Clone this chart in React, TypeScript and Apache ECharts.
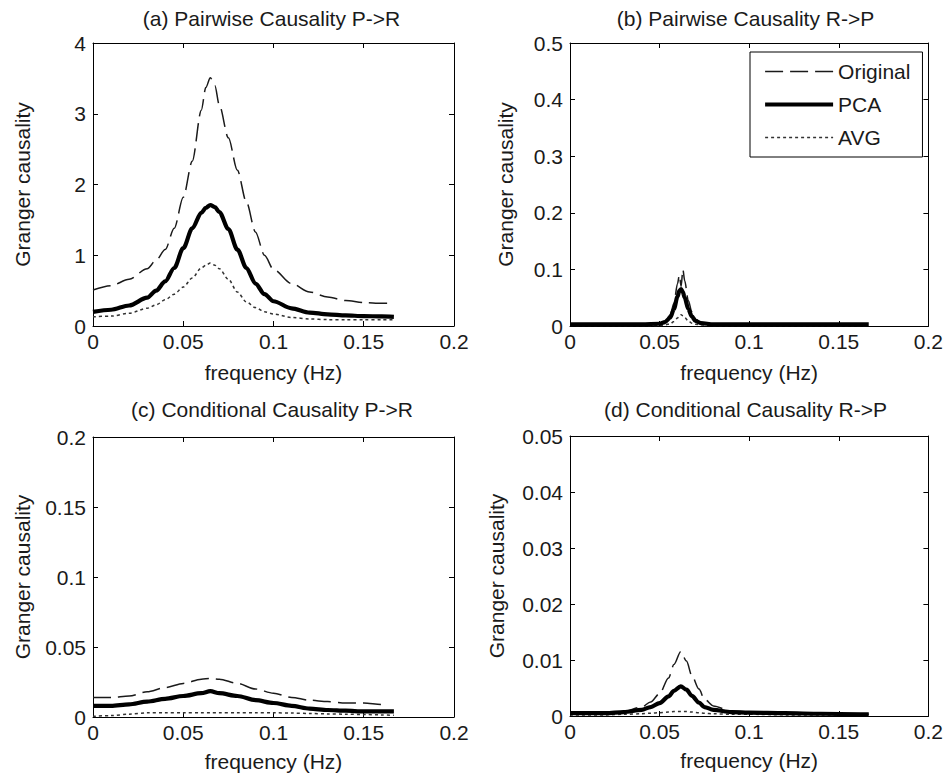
import React, { useEffect, useRef } from "react";
import * as echarts from "echarts";

// ---- Data ----
const SERIES_NAMES = ["Original", "PCA", "AVG"];
const X_TICKS = [0, 0.05, 0.1, 0.15, 0.2];

// (a) Pairwise Causality P->R
const FREQ_A = [0, 0.01, 0.02, 0.03, 0.035, 0.04, 0.045, 0.05, 0.055, 0.06, 0.0625, 0.065, 0.0675, 0.07, 0.075, 0.08, 0.085, 0.09, 0.095, 0.1, 0.11, 0.12, 0.13, 0.14, 0.15, 0.16, 0.1667];
const FREQ_A_ORIG = [0, 0.01, 0.02, 0.03, 0.035, 0.04, 0.045, 0.05, 0.055, 0.06, 0.0625, 0.065, 0.0675, 0.07, 0.075, 0.08, 0.085, 0.09, 0.095, 0.1, 0.11, 0.12, 0.13, 0.14, 0.15, 0.16, 0.163];
const ORIG_A = [0.51, 0.57, 0.66, 0.81, 0.93, 1.08, 1.38, 1.82, 2.33, 3.05, 3.37, 3.51, 3.40, 3.12, 2.66, 2.20, 1.75, 1.33, 1.00, 0.80, 0.60, 0.48, 0.41, 0.36, 0.33, 0.32, 0.32];
const PCA_A = [0.20, 0.23, 0.29, 0.40, 0.50, 0.63, 0.82, 1.10, 1.38, 1.60, 1.67, 1.71, 1.68, 1.61, 1.37, 1.08, 0.82, 0.60, 0.45, 0.35, 0.25, 0.19, 0.165, 0.15, 0.14, 0.135, 0.13];
const AVG_A = [0.13, 0.14, 0.18, 0.25, 0.30, 0.37, 0.45, 0.55, 0.68, 0.82, 0.86, 0.89, 0.86, 0.81, 0.66, 0.48, 0.34, 0.26, 0.20, 0.17, 0.12, 0.10, 0.09, 0.09, 0.09, 0.09, 0.09];

// (b) Pairwise Causality R->P
const FREQ_B = [0, 0.02, 0.04, 0.05, 0.053, 0.056, 0.058, 0.06, 0.061, 0.062, 0.063, 0.064, 0.066, 0.068, 0.07, 0.073, 0.08, 0.1, 0.12, 0.14, 0.1667];
const ORIG_B = [0.003, 0.003, 0.003, 0.004, 0.008, 0.02, 0.04, 0.075, 0.09, 0.07, 0.1, 0.08, 0.045, 0.025, 0.012, 0.006, 0.004, 0.003, 0.003, 0.003, 0.003];
const PCA_B = [0.003, 0.003, 0.003, 0.004, 0.007, 0.015, 0.03, 0.052, 0.062, 0.065, 0.06, 0.05, 0.03, 0.017, 0.009, 0.005, 0.003, 0.003, 0.003, 0.003, 0.003];
const AVG_B = [0.001, 0.001, 0.001, 0.001, 0.002, 0.004, 0.008, 0.014, 0.018, 0.02, 0.018, 0.015, 0.009, 0.005, 0.003, 0.002, 0.001, 0.001, 0.001, 0.001, 0.001];

// (c) Conditional Causality P->R
const FREQ_C = [0, 0.01, 0.02, 0.03, 0.04, 0.05, 0.06, 0.065, 0.07, 0.08, 0.09, 0.1, 0.11, 0.12, 0.13, 0.14, 0.15, 0.16, 0.1667];
const FREQ_C_ORIG = [0, 0.01, 0.02, 0.03, 0.04, 0.05, 0.06, 0.065, 0.07, 0.08, 0.09, 0.1, 0.11, 0.12, 0.13, 0.14, 0.15, 0.16, 0.163];
const ORIG_C = [0.014, 0.014, 0.015, 0.018, 0.021, 0.024, 0.027, 0.0275, 0.027, 0.024, 0.020, 0.017, 0.014, 0.012, 0.011, 0.010, 0.010, 0.009, 0.009];
const PCA_C = [0.008, 0.008, 0.009, 0.011, 0.013, 0.015, 0.017, 0.0185, 0.017, 0.015, 0.012, 0.010, 0.008, 0.006, 0.005, 0.0045, 0.004, 0.004, 0.004];
const AVG_C = [0.0005, 0.001, 0.002, 0.003, 0.003, 0.003, 0.003, 0.003, 0.003, 0.003, 0.003, 0.003, 0.0028, 0.0025, 0.0022, 0.002, 0.0018, 0.0015, 0.0012];

// (d) Conditional Causality R->P
const FREQ_D = [0, 0.02, 0.03, 0.04, 0.045, 0.05, 0.055, 0.058, 0.0618, 0.065, 0.068, 0.072, 0.075, 0.08, 0.09, 0.1, 0.12, 0.14, 0.1667];
const ORIG_D = [0.0004, 0.0005, 0.0008, 0.0016, 0.0025, 0.004, 0.0068, 0.0092, 0.0115, 0.0098, 0.0072, 0.0048, 0.003, 0.0018, 0.0009, 0.0007, 0.0005, 0.0004, 0.0003];
const PCA_D = [0.0005, 0.0005, 0.0007, 0.0011, 0.0016, 0.0023, 0.0035, 0.0045, 0.0053, 0.0047, 0.0036, 0.0024, 0.0016, 0.0011, 0.0007, 0.0006, 0.0005, 0.0004, 0.0003];
const AVG_D = [0.0002, 0.0002, 0.0003, 0.0004, 0.0005, 0.0006, 0.0007, 0.0008, 0.0008, 0.0008, 0.0007, 0.0006, 0.0005, 0.0004, 0.0003, 0.0003, 0.0002, 0.0002, 0.0002];

const TITLES = [
  "(a) Pairwise Causality P->R",
  "(b) Pairwise Causality R->P",
  "(c) Conditional Causality P->R",
  "(d) Conditional Causality R->P",
];
const Y_MAX = [4, 0.5, 0.2, 0.05];
const Y_INTERVAL = [1, 0.1, 0.05, 0.01];

const FONT = "'Liberation Sans', Arial, Helvetica, sans-serif";
const FS = 21;
const INK = "#1a1a1a";

const zip = (xs: number[], ys: number[]) => xs.map((x, i) => [x, ys[i]]);

const GRIDS = [
  { left: 93, top: 43, width: 361, height: 283 },
  { left: 570, top: 43, width: 360, height: 283 },
  { left: 93, top: 437, width: 361, height: 280 },
  { left: 570, top: 436, width: 360, height: 280 },
];
const Y_NAME_GAP = [60, 54, 60, 63];
const X_NAME_GAP = [36, 36, 34, 34];
const TITLE_POS = [
  [271.5, 18],
  [745.5, 18],
  [272, 409],
  [745.5, 409],
];

const STYLES: Record<string, any> = {
  Original: { color: INK, width: 1.5, type: [18, 7] },
  PCA: { color: "#000", width: 4.2, type: "solid" },
  AVG: { color: "#333", width: 1.5, type: [3, 3] },
};

export default function App() {
  const ref = useRef<HTMLDivElement>(null);

  useEffect(() => {
    if (!ref.current) return;
    const chart = echarts.init(ref.current, undefined, { renderer: "svg" });

    const xAxes: any[] = [];
    const yAxes: any[] = [];
    for (let g = 0; g < 4; g++) {
      xAxes.push({
        type: "value",
        gridIndex: g,
        min: X_TICKS[0],
        max: X_TICKS[X_TICKS.length - 1],
        interval: 0.05,
        position: "bottom",
        axisLine: { show: true, onZero: false, lineStyle: { color: "#000", width: 1 } },
        axisTick: { show: true, inside: true, length: 5, lineStyle: { color: "#000" } },
        axisLabel: { color: INK, fontSize: FS, fontFamily: FONT, margin: 5 },
        splitLine: { show: false },
        name: "frequency (Hz)",
        nameLocation: "middle",
        nameGap: X_NAME_GAP[g],
        nameTextStyle: { color: INK, fontSize: FS, fontFamily: FONT },
      });
      yAxes.push({
        type: "value",
        gridIndex: g,
        min: 0,
        max: Y_MAX[g],
        interval: Y_INTERVAL[g],
        position: "left",
        axisLine: { show: true, onZero: false, lineStyle: { color: "#000", width: 1 } },
        axisTick: { show: true, inside: true, length: 5, lineStyle: { color: "#000" } },
        axisLabel: { color: INK, fontSize: FS, fontFamily: FONT, margin: 7 },
        splitLine: { show: false },
        name: "Granger causality",
        nameLocation: "middle",
        nameGap: Y_NAME_GAP[g],
        nameTextStyle: { color: INK, fontSize: FS, fontFamily: FONT },
      });
    }
    for (let g = 0; g < 4; g++) {
      xAxes.push({
        type: "value",
        gridIndex: g,
        min: 0,
        max: 0.2,
        interval: 0.05,
        position: "top",
        axisLine: { show: true, onZero: false, lineStyle: { color: "#000", width: 1 } },
        axisTick: { show: true, inside: true, length: 5, lineStyle: { color: "#000" } },
        axisLabel: { show: false },
        splitLine: { show: false },
      });
      yAxes.push({
        type: "value",
        gridIndex: g,
        min: 0,
        max: Y_MAX[g],
        interval: Y_INTERVAL[g],
        position: "right",
        axisLine: { show: true, onZero: false, lineStyle: { color: "#000", width: 1 } },
        axisTick: { show: true, inside: true, length: 5, lineStyle: { color: "#000" } },
        axisLabel: { show: false },
        splitLine: { show: false },
      });
    }

    const panels = [
      { Original: zip(FREQ_A_ORIG, ORIG_A), PCA: zip(FREQ_A, PCA_A), AVG: zip(FREQ_A, AVG_A) },
      { Original: zip(FREQ_B, ORIG_B), PCA: zip(FREQ_B, PCA_B), AVG: zip(FREQ_B, AVG_B) },
      { Original: zip(FREQ_C_ORIG, ORIG_C), PCA: zip(FREQ_C, PCA_C), AVG: zip(FREQ_C, AVG_C) },
      { Original: zip(FREQ_D, ORIG_D), PCA: zip(FREQ_D, PCA_D), AVG: zip(FREQ_D, AVG_D) },
    ];

    const series: any[] = [];
    panels.forEach((p: any, g) => {
      SERIES_NAMES.forEach((name) => {
        series.push({
          type: "line",
          name,
          xAxisIndex: g,
          yAxisIndex: g,
          data: p[name],
          showSymbol: false,
          symbol: "none",
          smooth: 0.3,
          smoothMonotone: "x",
          lineStyle: STYLES[name],
          itemStyle: { color: STYLES[name].color },
          z: name === "PCA" ? 3 : 2,
        });
      });
    });

    const graphic = TITLES.map((t, i) => ({
      type: "text",
      x: TITLE_POS[i][0],
      y: TITLE_POS[i][1],
      style: {
        text: t,
        fontSize: FS,
        fontFamily: FONT,
        fill: INK,
        align: "center",
        verticalAlign: "middle",
      },
    }));

    chart.setOption({
      animation: false,
      backgroundColor: "#fff",
      grid: GRIDS,
      xAxis: xAxes,
      yAxis: yAxes,
      series,
      graphic,
      legend: {
        data: SERIES_NAMES.map((name) => ({
          name,
          lineStyle: {
            width: STYLES[name].width,
            type: STYLES[name].type,
            color: STYLES[name].color,
          },
        })),
        orient: "vertical",
        left: 750,
        top: 52,
        itemWidth: 68,
        itemHeight: 20,
        itemGap: 12,
        padding: [9, 12, 9, 13],
        borderColor: "#000",
        borderWidth: 1,
        backgroundColor: "#fff",
        selectedMode: false,
        itemStyle: { color: "rgba(0,0,0,0)", borderWidth: 0, opacity: 0 },
        textStyle: { fontSize: FS, color: INK, fontFamily: FONT },
      },
    });

    return () => chart.dispose();
  }, []);

  return (
    <div
      ref={ref}
      style={{ position: "absolute", left: 0, top: 0, width: 946, height: 778, background: "#fff" }}
    />
  );
}
